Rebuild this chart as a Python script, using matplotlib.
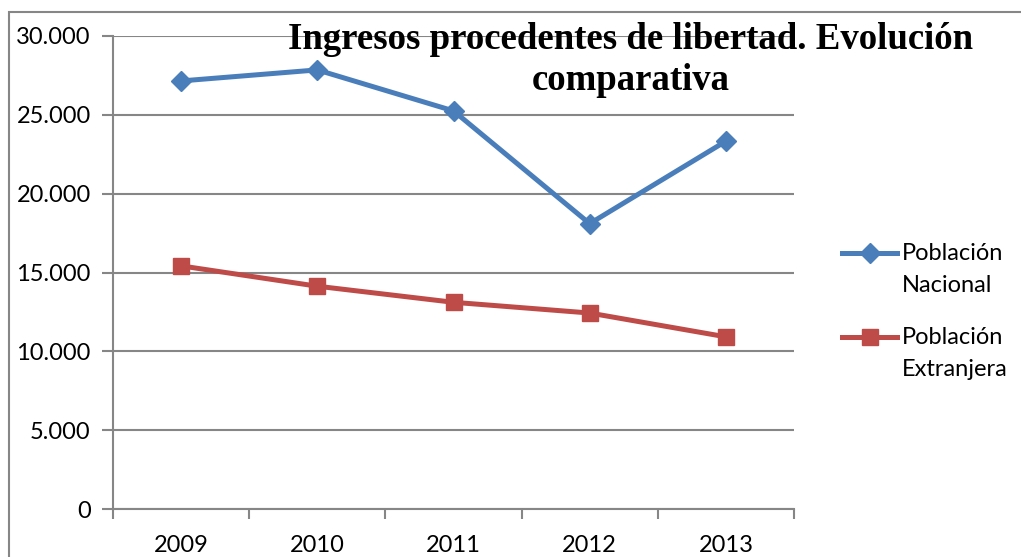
import matplotlib.pyplot as plt
from matplotlib.lines import Line2D
from matplotlib.patches import Rectangle
from matplotlib.ticker import FuncFormatter

# --- Data ---
years = ["2009", "2010", "2011", "2012", "2013"]
nacional = [27150, 27850, 25250, 18100, 23330]
extranjera = [15420, 14130, 13110, 12430, 10920]
series_labels = [("Población", "Nacional"), ("Población", "Extranjera")]

BLUE = "#4A7EBB"
RED = "#BE4B48"
GRID = "#868686"
LABEL_FONT = "Lato"
W, H = 1021, 557


def fx(px):
    return px / W


def fy(py):
    return 1 - py / H


fig = plt.figure(figsize=(W / 100, H / 100), dpi=100)

# outer chart frame (runs past the right and bottom edges)
fig.patches.append(Rectangle((fx(9), -0.2), 1.2, fy(12) + 0.2,
                             transform=fig.transFigure, fill=False,
                             edgecolor=GRID, linewidth=1.5))

# plot area: x 113..794, y 36..509 (pixels)
ax = fig.add_axes([fx(113), fy(509), fx(794 - 113), (509 - 36) / H])

x = list(range(len(years)))
styles = [dict(color=BLUE, marker="D", markersize=10),
          dict(color=RED, marker="s", markersize=12)]
for vals, st in zip([nacional, extranjera], styles):
    ax.plot(x, vals, linewidth=3.6, zorder=3, **st)

ax.set_xlim(-0.5, len(years) - 0.5)
ax.set_ylim(0, 30000)
ax.set_yticks(range(0, 30001, 5000))
ax.yaxis.set_major_formatter(FuncFormatter(lambda v, p: f"{int(v):,}".replace(",", ".")))
ax.yaxis.grid(True, color=GRID, linewidth=1.5)
ax.set_axisbelow(True)

# category boundaries carry the tick marks, labels sit between them
ax.set_xticks([i + 0.5 for i in range(-1, len(years))])
ax.set_xticklabels([])
ax.set_xticks(x, minor=True)
ax.set_xticklabels(years, minor=True)
ax.tick_params(axis="x", which="major", direction="out", length=7, width=1.5, color=GRID)
ax.tick_params(axis="x", which="minor", length=0, pad=19, labelsize=17)
ax.tick_params(axis="y", direction="out", length=8, width=1.5, color=GRID, labelsize=17, pad=8)
for lab in ax.get_xticklabels(minor=True) + ax.get_yticklabels():
    lab.set_fontfamily(LABEL_FONT)

for side in ["top", "right"]:
    ax.spines[side].set_visible(False)
for side in ["left", "bottom"]:
    ax.spines[side].set_color(GRID)
    ax.spines[side].set_linewidth(1.5)

fig.text(fx(631), fy(60), "Ingresos procedentes de libertad. Evolución\ncomparativa",
         ha="center", va="center", fontsize=26.5, fontweight="bold",
         family="Liberation Serif", linespacing=1.2)

# legend: handle aligned with the first line of each two-line label
for (l1, l2), st, ypx in zip(series_labels, styles, [253, 337]):
    fig.add_artist(Line2D([fx(842), fx(897)], [fy(ypx)] * 2, linewidth=3.6,
                          color=st["color"], transform=fig.transFigure))
    fig.add_artist(Line2D([fx(869.5)], [fy(ypx)], linestyle="none",
                          transform=fig.transFigure, **st))
    fig.text(fx(902), fy(ypx), l1, ha="left", va="center", fontsize=17, family=LABEL_FONT)
    fig.text(fx(902), fy(ypx + 32), l2, ha="left", va="center", fontsize=17, family=LABEL_FONT)

fig.savefig("out.png", dpi=100)
